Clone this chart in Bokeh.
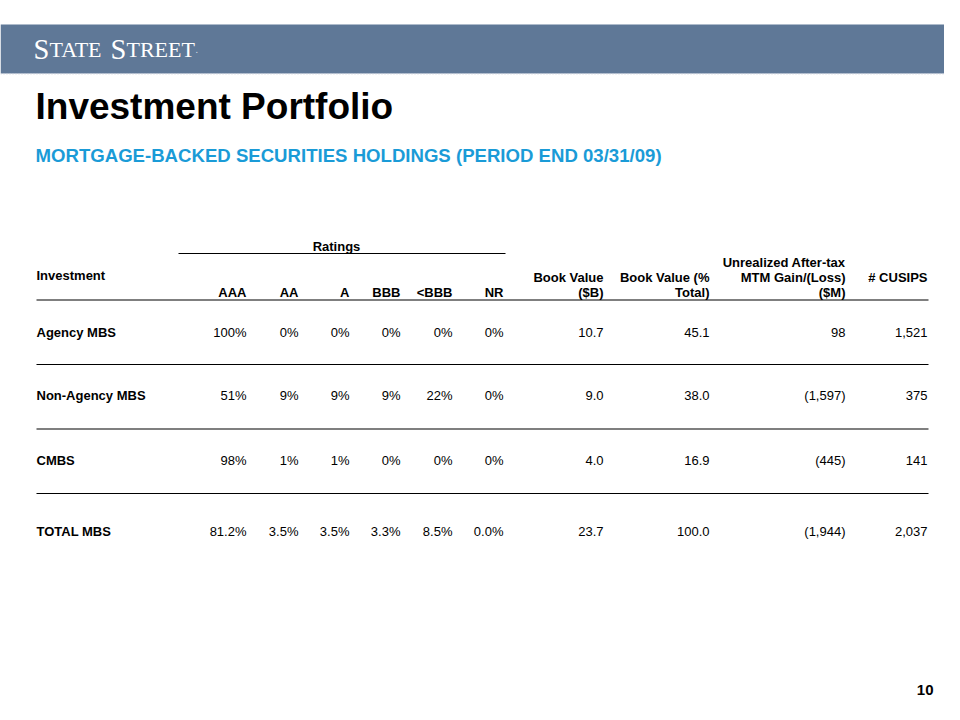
from bokeh.plotting import figure
from bokeh.models import Range1d, ColumnDataSource
from bokeh.core.properties import value
from bokeh.embed import file_html
from bokeh.resources import INLINE

# ---------------- data ----------------
investments = ["Agency MBS", "Non-Agency MBS", "CMBS", "TOTAL MBS"]
rating_labels = ["AAA", "AA", "A", "BBB", "<BBB", "NR"]
aaa = [100, 51, 98, 81.2]
aa = [0, 9, 1, 3.5]
a_rated = [0, 9, 1, 3.5]
bbb = [0, 9, 0, 3.3]
below_bbb = [0, 22, 0, 8.5]
nr = [0, 0, 0, 0.0]
pct_decimals = [0, 0, 0, 1]
book_value_b = [10.7, 9.0, 4.0, 23.7]
book_value_pct = [45.1, 38.0, 16.9, 100.0]
mtm_gain_m = [98, -1597, -445, -1944]
cusips = [1521, 375, 141, 2037]

title_text = "Investment Portfolio"
subtitle_text = "MORTGAGE-BACKED SECURITIES HOLDINGS (PERIOD END 03/31/09)"
page_number = "10"

# ---------------- layout ----------------
W, H = 944, 704
FONT = value("Liberation Sans")
SERIF = value("Liberation Serif")
BAND = "#5f7897"
SUB = "#1a9bd7"

p = figure(width=W, height=H, x_range=Range1d(0, W), y_range=Range1d(H, 0),
           x_axis_type=None, y_axis_type=None, toolbar_location=None,
           output_backend="svg", min_border=0, outline_line_color=None,
           background_fill_color="white", border_fill_color="white")
p.xgrid.visible = False
p.ygrid.visible = False

# header band
p.quad(left=[0], right=[W], top=[24], bottom=[73], fill_color=BAND, line_color=None)
p.line(x=[0, W], y=[73.5, 73.5], line_color="#c9ced8", line_width=1, line_dash="1 2")

# logo (small caps)
LOGO_BASE = 49
logo_src = ColumnDataSource(dict(
    x=[33, 49, 110, 126],
    text=["S", "TATE", "S", "TREET"],
    size=["28.5px", "22px", "28.5px", "22px"],
))
p.text(x="x", y=LOGO_BASE, text="text", source=logo_src, text_font=SERIF,
       text_font_size="size", text_color="white", text_baseline="alphabetic",
       text_align="left")
p.text(x=[195], y=[LOGO_BASE], text=["."], text_font=SERIF, text_font_size="10px",
       text_color="#d8dde6", text_baseline="alphabetic")

# titles
p.text(x=[35], y=[106], text=[title_text], text_font=FONT, text_font_size="37px",
       text_font_style="bold", text_color="black", text_baseline="middle")
p.text(x=[35], y=[155], text=[subtitle_text], text_font=FONT, text_font_size="18.6px",
       text_font_style="bold", text_color=SUB, text_baseline="middle")

# table geometry
rating_x = [246, 298, 349, 400, 452, 503]
book_x, pct_x, mtm_x, cus_x = 603, 709, 845, 927
row_y = [332, 395, 460, 531]
sep_y = [364, 428.5, 493]
left_x, right_x = 36, 928


def txt(xs, ys, texts, bold=False, align="right"):
    p.text(x=xs, y=ys, text=texts, text_font=FONT, text_font_size="13px",
           text_font_style="bold" if bold else "normal", text_color="black",
           text_align=align, text_baseline="middle")


# header
txt([336], [246], ["Ratings"], bold=True, align="center")
p.line(x=[178, 505], y=[253, 253], line_color="black", line_width=1.2)
txt([left_x], [275], ["Investment"], bold=True, align="left")
txt(rating_x, [292] * 6, rating_labels, bold=True)
txt([book_x, book_x], [277, 292], ["Book Value", "($B)"], bold=True)
txt([pct_x, pct_x], [277, 292], ["Book Value (%", "Total)"], bold=True)
txt([mtm_x] * 3, [262, 277, 292], ["Unrealized After-tax", "MTM Gain/(Loss)", "($M)"], bold=True)
txt([cus_x], [277], ["# CUSIPS"], bold=True)
p.line(x=[left_x, right_x], y=[299.5, 299.5], line_color="black", line_width=1.2)

# separators
for yy in sep_y:
    p.line(x=[left_x, right_x], y=[yy, yy], line_color="black", line_width=1.2)

# body
txt([left_x] * 4, row_y, investments, bold=True, align="left")
rating_cols = [aaa, aa, a_rated, bbb, below_bbb, nr]
for cx, col in zip(rating_x, rating_cols):
    labels = [f"{v:.{d}f}%" for v, d in zip(col, pct_decimals)]
    txt([cx] * 4, row_y, labels)
txt([book_x] * 4, row_y, [f"{v:.1f}" for v in book_value_b])
txt([pct_x] * 4, row_y, [f"{v:.1f}" for v in book_value_pct])
txt([mtm_x] * 4, row_y, [f"({abs(v):,})" if v < 0 else f"{v:,}" for v in mtm_gain_m])
txt([cus_x] * 4, row_y, [f"{v:,}" for v in cusips])

# page number
p.text(x=[933], y=[689], text=[page_number], text_font=FONT, text_font_size="15px",
       text_font_style="bold", text_color="black", text_align="right",
       text_baseline="middle")

open("out.html", "w").write(file_html(p, INLINE))
